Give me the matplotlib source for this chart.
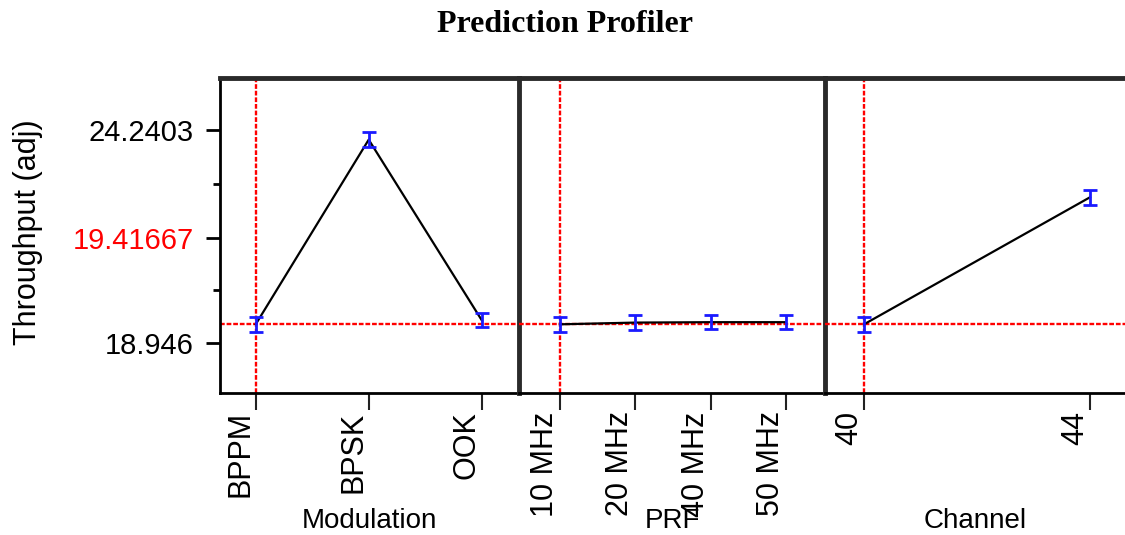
import matplotlib

matplotlib.use("Agg")
import matplotlib.pyplot as plt
import matplotlib.transforms as mtransforms

plt.rcParams["font.family"] = ["Liberation Sans", "DejaVu Sans"]

# factor levels and predicted throughput (with error half-widths)
modulation = ["BPPM", "BPSK", "OOK"]
mod_pred = [19.417, 24.0, 19.52]
mod_err = [0.18, 0.18, 0.18]

prf = ["10 MHz", "20 MHz", "40 MHz", "50 MHz"]
prf_pred = [19.417, 19.46, 19.47, 19.47]
prf_err = [0.18, 0.18, 0.18, 0.18]

channel = [40, 44]
chan_pred = [19.417, 22.57]
chan_err = [0.18, 0.18]

current_y = 19.41667
current_x = [0, 0, 40]

y_ticks = [18.946, 21.552, 24.2403]
y_ticklabels = ["18.946", "19.41667", "24.2403"]
y_minor = [20.269, 22.90]
y_lim = (17.705, 25.523)

factor_names = ["Modulation", "PRF", "Channel"]

W, H = 1125, 535
fig = plt.figure(figsize=(W / 100, H / 100), dpi=100)

bottom = 1 - 393.3 / H
height = (393.3 - 78.3) / H
panels = [(220, 519), (519, 825), (825, 1125)]
xlims = [(-0.316, 2.33), (-0.544, 3.52), (39.31, 44.62)]

data = [
    (list(range(len(modulation))), mod_pred, mod_err, modulation),
    (list(range(len(prf))), prf_pred, prf_err, prf),
    (channel, chan_pred, chan_err, [str(c) for c in channel]),
]

divider = "#2a2a2a"
for i, ((x0, x1), (xs, ys, es, labels)) in enumerate(zip(panels, data)):
    ax = fig.add_axes([x0 / W, bottom, (x1 - x0) / W, height])
    ax.patch.set_visible(False)
    ax.set_xlim(*xlims[i])
    ax.set_ylim(*y_lim)

    ax.axhline(current_y, color="red", lw=1.7, ls=(0, (2, 0.8)), zorder=1)
    ax.axvline(current_x[i], color="red", lw=1.7, ls=(0, (2, 0.8)), zorder=1)
    ax.plot(xs, ys, color="black", lw=1.6, zorder=2)
    ax.errorbar(xs, ys, yerr=es, fmt="none", ecolor="#1a1aff",
                elinewidth=2, capsize=5, capthick=2, zorder=3)

    ax.set_xticks(xs)
    ax.set_xticklabels(labels, rotation=90, fontsize=22, ha="right")
    shift = mtransforms.ScaledTranslation(5 / 72, 0, fig.dpi_scale_trans)
    for lab in ax.get_xticklabels():
        lab.set_transform(lab.get_transform() + shift)
    ax.tick_params(axis="x", length=12, width=1.5, color="#222222", pad=1)

    ax.spines["bottom"].set_linewidth(2)
    ax.spines["top"].set_linewidth(3.5)
    ax.spines["top"].set_color(divider)
    if i < 2:
        ax.spines["right"].set_linewidth(3.5)
        ax.spines["right"].set_color(divider)
        ax.spines["right"].set_zorder(5)
    else:
        ax.spines["right"].set_visible(False)

    if i == 0:
        ax.spines["left"].set_linewidth(2)
        ax.set_yticks(y_ticks)
        ax.set_yticklabels(y_ticklabels, fontsize=21)
        ax.set_yticks(y_minor, minor=True)
        ax.tick_params(axis="y", which="major", length=10, width=2, pad=9)
        ax.tick_params(axis="y", which="minor", length=5, width=2)
        ax.get_yticklabels()[1].set_color("red")
    else:
        ax.spines["left"].set_visible(False)
        ax.set_yticks([])

    ax.text(0.5, 1 - 528 / H, factor_names[i], fontsize=20,
            ha="center", va="baseline",
            transform=mtransforms.blended_transform_factory(ax.transAxes, fig.transFigure))

fig.text(28 / W, 1 - 232 / H, "Throughput (adj)", rotation=90, fontsize=22,
         ha="center", va="center")
fig.text(565 / W, 1 - 32 / H, "Prediction Profiler", fontsize=23, fontweight="bold",
         family=["Liberation Serif", "DejaVu Serif"], ha="center", va="baseline")

fig.savefig("out.png", dpi=100)
